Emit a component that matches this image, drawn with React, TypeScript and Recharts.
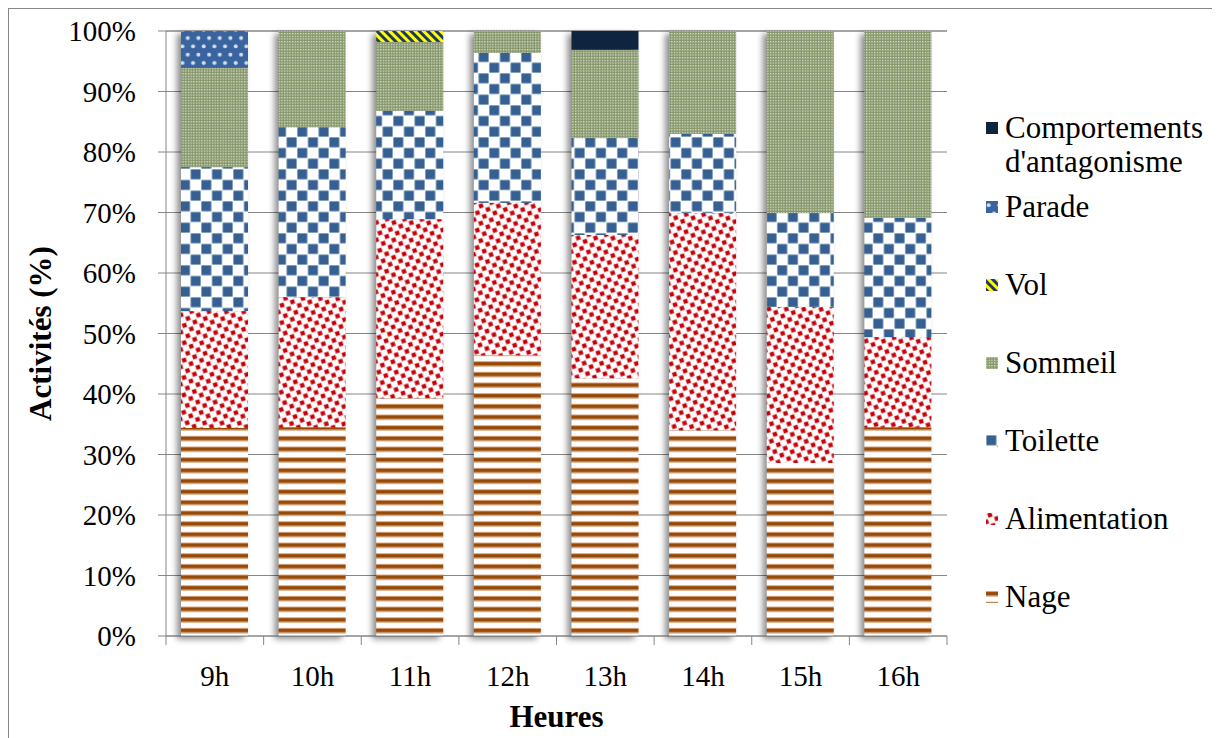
import React from 'react';
import { BarChart, Bar, XAxis, YAxis, CartesianGrid } from 'recharts';

// ---- data (percent of activity per hour, stacked bottom -> top) ----
const hours = ['9h', '10h', '11h', '12h', '13h', '14h', '15h', '16h'];
const nage = [34.4, 34.5, 39.3, 46.4, 42.6, 34.0, 28.6, 34.5];
const alimentation = [19.3, 21.5, 29.6, 25.2, 23.7, 35.9, 25.8, 14.9];
const toilette = [23.8, 28.1, 17.9, 24.8, 16.0, 13.1, 15.5, 19.7];
const sommeil = [16.4, 15.9, 11.4, 3.6, 14.6, 17.0, 30.1, 30.9];
const vol = [0, 0, 1.8, 0, 0, 0, 0, 0];
const parade = [6.1, 0, 0, 0, 0, 0, 0, 0];
const antagonisme = [0, 0, 0, 0, 3.1, 0, 0, 0];
const yTicks = [0, 10, 20, 30, 40, 50, 60, 70, 80, 90, 100];

const seriesNames = {
  nage: 'Nage',
  alimentation: 'Alimentation',
  toilette: 'Toilette',
  sommeil: 'Sommeil',
  vol: 'Vol',
  parade: 'Parade',
  antagonisme: "Comportements d'antagonisme",
};

const data = hours.map((h, i) => ({
  hour: h,
  nage: nage[i],
  alimentation: alimentation[i],
  toilette: toilette[i],
  sommeil: sommeil[i],
  vol: vol[i],
  parade: parade[i],
  antagonisme: antagonisme[i],
}));

// ---- styles ----
const FONT = "'Liberation Serif', 'Times New Roman', 'DejaVu Serif', serif";
const AXIS_COLOR = '#868686';
const fills: Record<string, string> = {
  nage: 'url(#p-nage)',
  alimentation: 'url(#p-alim)',
  toilette: 'url(#p-toilette)',
  sommeil: 'url(#p-sommeil)',
  vol: 'url(#p-vol)',
  parade: 'url(#p-parade)',
  antagonisme: '#0F243E',
};
const order = ['nage', 'alimentation', 'toilette', 'sommeil', 'vol', 'parade', 'antagonisme'];

const Patterns = () => (
  <svg width={0} height={0} style={{ position: 'absolute', left: 0, top: 0 }}>
    <defs>
      <pattern id="p-nage" patternUnits="userSpaceOnUse" width={10} height={10.67}>
        <rect width={10} height={10.67} fill="#fff" />
        <rect y={0} width={10} height={1} fill="#D6A57C" />
        <rect y={1} width={10} height={3.6} fill="#974806" />
        <rect y={4.6} width={10} height={1} fill="#D6A57C" />
      </pattern>
      <pattern id="p-alim" patternUnits="userSpaceOnUse" width={11} height={11} patternTransform="rotate(-18)">
        <rect width={11} height={11} fill="#fff" />
        <rect x={0.6} y={0.6} width={5} height={5} fill="#F0A0A0" />
        <rect x={1.1} y={1.1} width={4} height={4} fill="#C4000A" />
        <rect x={6.1} y={6.1} width={5} height={5} fill="#F0A0A0" />
        <rect x={6.6} y={6.6} width={4} height={4} fill="#C4000A" />
      </pattern>
      <pattern id="p-toilette" patternUnits="userSpaceOnUse" width={21.33} height={21.33}>
        <rect width={21.33} height={21.33} fill="#fff" />
        <rect x={0.4} y={0.4} width={9.9} height={9.9} fill="#376092" />
        <rect x={11.07} y={11.07} width={9.9} height={9.9} fill="#376092" />
      </pattern>
      <pattern id="p-sommeil" patternUnits="userSpaceOnUse" width={2.67} height={2.67}>
        <rect width={2.67} height={2.67} fill="#86976A" />
        <rect x={0} y={0} width={1.33} height={1.33} fill="#D8DECC" />
      </pattern>
      <pattern id="p-vol" patternUnits="userSpaceOnUse" width={6} height={6} patternTransform="rotate(-45)">
        <rect width={6} height={6} fill="#1F3864" />
        <rect width={3} height={6} fill="#FFFF00" />
      </pattern>
      <pattern id="p-parade" patternUnits="userSpaceOnUse" width={10.67} height={16.6}>
        <rect width={10.67} height={16.6} fill="#3A64A0" />
        <circle cx={2.67} cy={4.15} r={2} fill="#D3DEEC" />
        <circle cx={8} cy={12.45} r={2} fill="#D3DEEC" />
      </pattern>
      <filter id="barShadow" x="-40%" y="-10%" width="180%" height="120%">
        <feGaussianBlur in="SourceAlpha" stdDeviation="3" />
        <feOffset dx="-4" dy="3" />
        <feComponentTransfer>
          <feFuncA type="linear" slope="0.45" />
        </feComponentTransfer>
      </filter>
    </defs>
  </svg>
);

const makeShape = (fill: string, withShadow: boolean) => (props: any) => {
  const { x, y, width, height, background } = props;
  return (
    <g>
      {withShadow && background ? (
        <rect
          x={background.x}
          y={background.y}
          width={background.width}
          height={background.height}
          fill="#000"
          filter="url(#barShadow)"
        />
      ) : null}
      {height > 0 && width > 0 ? <rect x={x} y={y} width={width} height={height} fill={fill} /> : null}
    </g>
  );
};

const X_TICK_SIZE = 9;
const X_TICK_MARGIN = 20;

const XTick = (props: any) => {
  const { x, y, payload, index, visibleTicksCount, width } = props;
  const count = visibleTicksCount || hours.length;
  const band = (width || 781) / count;
  const axisY = y - X_TICK_SIZE - X_TICK_MARGIN;
  const left = payload.coordinate - band / 2;
  const right = payload.coordinate + band / 2;
  return (
    <g>
      <line x1={left} x2={left} y1={axisY} y2={axisY + X_TICK_SIZE} stroke={AXIS_COLOR} />
      {index === count - 1 ? (
        <line x1={right} x2={right} y1={axisY} y2={axisY + X_TICK_SIZE} stroke={AXIS_COLOR} />
      ) : null}
      <text x={x} y={y} dy="0.71em" textAnchor="middle" fill="#000" fontSize={29} fontFamily={FONT}>
        {payload.value}
      </text>
    </g>
  );
};

const legendOrder = [...order].reverse();

export default function App() {
  return (
    <div
      style={{
        position: 'relative',
        width: 1212,
        height: 740,
        boxSizing: 'border-box',
        border: `1px solid ${AXIS_COLOR}`,
        background: '#fff',
        fontFamily: FONT,
      }}
    >
      <Patterns />
      <BarChart
        width={1210}
        height={729}
        data={data}
        margin={{ top: 22, right: 272, bottom: 0, left: 0 }}
        barSize={67}
      >
        <CartesianGrid vertical={false} stroke={AXIS_COLOR} />
        <XAxis
          dataKey="hour"
          height={102}
          axisLine={{ stroke: AXIS_COLOR }}
          tickLine={false}
          tickSize={X_TICK_SIZE}
          tickMargin={X_TICK_MARGIN}
          tick={<XTick />}
          interval={0}
          label={{
            content: (p: any) => {
              const vb = p.viewBox || { x: 157, y: 627, width: 781, height: 102 };
              return (
                <text
                  x={vb.x + vb.width / 2}
                  y={vb.y + 91}
                  textAnchor="middle"
                  fontSize={31}
                  fontWeight="bold"
                  fontFamily={FONT}
                  fill="#000"
                >
                  Heures
                </text>
              );
            },
          }}
        />
        <YAxis
          width={157}
          domain={[0, 100]}
          ticks={yTicks}
          interval={0}
          tickFormatter={(v: number) => `${v}%`}
          axisLine={{ stroke: AXIS_COLOR }}
          tickLine={{ stroke: AXIS_COLOR }}
          tickSize={8}
          tickMargin={22}
          tick={{ fill: '#000', fontSize: 29, fontFamily: FONT }}
          label={{
            content: (p: any) => {
              const vb = p.viewBox || { x: 0, y: 22, width: 157, height: 605 };
              const cx = vb.x + 31;
              const cy = vb.y + vb.height / 2;
              return (
                <text
                  x={cx}
                  y={cy}
                  transform={`rotate(-90 ${cx} ${cy})`}
                  textAnchor="middle"
                  dominantBaseline="central"
                  fontSize={31}
                  fontWeight="bold"
                  fontFamily={FONT}
                  fill="#000"
                >
                  Activités (%)
                </text>
              );
            },
          }}
        />
        {order.map((k, i) => (
          <Bar
            key={k}
            dataKey={k}
            name={seriesNames[k as keyof typeof seriesNames]}
            stackId="a"
            fill={fills[k]}
            shape={makeShape(fills[k], i === 0)}
            isAnimationActive={false}
          />
        ))}
      </BarChart>
      {legendOrder.map((k, i) => {
        const top = i === 0 ? 102 : 181 + (i - 1) * 78;
        return (
          <div
            key={k}
            style={{
              position: 'absolute',
              left: 977,
              top,
              display: 'flex',
              alignItems: 'flex-start',
            }}
          >
            <svg width={12} height={12} style={{ marginTop: 11, marginRight: 7, flex: 'none' }}>
              <rect width={12} height={12} fill={fills[k]} />
            </svg>
            <div style={{ width: 214, fontSize: 31, lineHeight: '34px', color: '#000', fontFamily: FONT }}>
              {seriesNames[k as keyof typeof seriesNames]}
            </div>
          </div>
        );
      })}
    </div>
  );
}
